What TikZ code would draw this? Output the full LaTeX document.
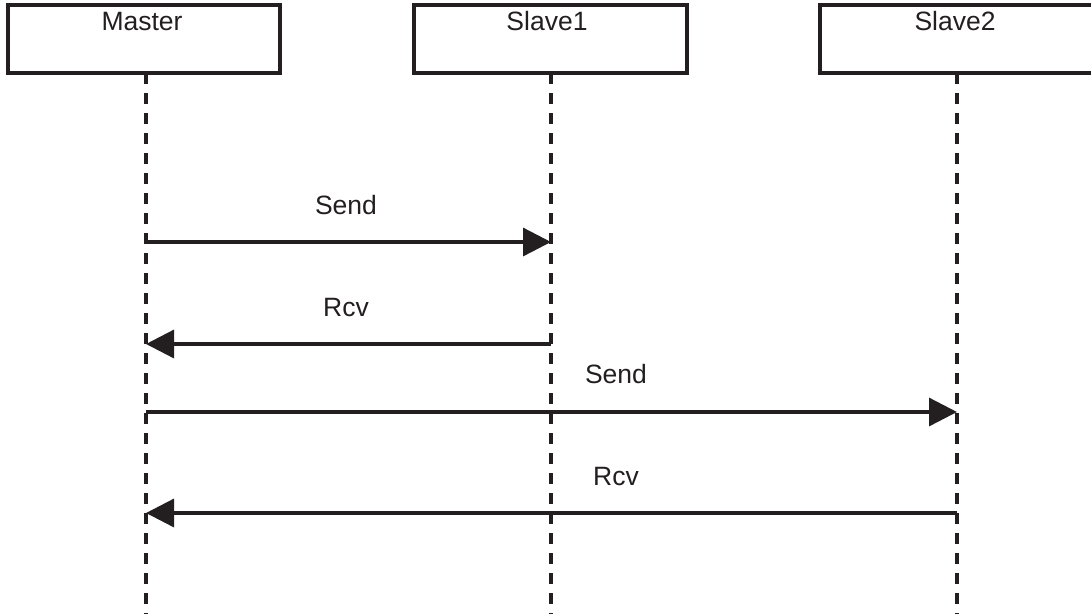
\documentclass[tikz,border=0pt]{standalone}
\usepackage{fontspec}
\setmainfont{Liberation Sans}
\usetikzlibrary{arrows.meta}
\definecolor{ink}{HTML}{231F20}
\begin{document}
\begin{tikzpicture}[x=1pt,y=-1pt,
  box/.style={draw=ink,line width=3.3pt,rectangle,inner sep=0pt,minimum height=68pt},
  lbl/.style={anchor=base,inner sep=0pt,text=ink,font=\fontsize{26.5}{30}\selectfont},
  life/.style={draw=ink,line width=3.4pt,dash pattern=on 11pt off 9pt},
  msg/.style={draw=ink,line width=3.3pt,-{Triangle[length=28pt,width=28pt]}}]
\useasboundingbox (0,0) rectangle (1091,614);
% participant boxes
\node[box,minimum width=272pt] (m) at (144,39) {};
\node[box,minimum width=273pt] (s1) at (550.5,39) {};
\node[box,minimum width=273pt] (s2) at (956.5,39) {};
\node[lbl] (mt) at (142,30) {Master};
\node[lbl] (s1t) at (547,30) {Slave1};
\node[lbl] (s2t) at (955,30) {Slave2};
% lifelines
\coordinate (mtop) at (146,73);  \coordinate (mbot) at (146,614);
\coordinate (atop) at (551,73);  \coordinate (abot) at (551,614);
\coordinate (btop) at (957,73);  \coordinate (bbot) at (957,614);
\draw[life] (mtop) -- (mbot);
\draw[life] (atop) -- (abot);
\draw[life] (btop) -- (bbot);
% message points
\coordinate (m1) at (146,242); \coordinate (a1) at (551,242);
\coordinate (m2) at (146,344); \coordinate (a2) at (551,344);
\coordinate (m3) at (146,412); \coordinate (b3) at (957,412);
\coordinate (m4) at (146,513); \coordinate (b4) at (957,513);
\draw[msg] (m1) -- (a1);
\draw[msg] (a2) -- (m2);
\draw[msg] (m3) -- (b3);
\draw[msg] (b4) -- (m4);
\node[lbl] (l1) at (346,214) {Send};
\node[lbl] (l2) at (346,316) {Rcv};
\node[lbl] (l3) at (616,383) {Send};
\node[lbl] (l4) at (616,485) {Rcv};
\end{tikzpicture}
\end{document}
